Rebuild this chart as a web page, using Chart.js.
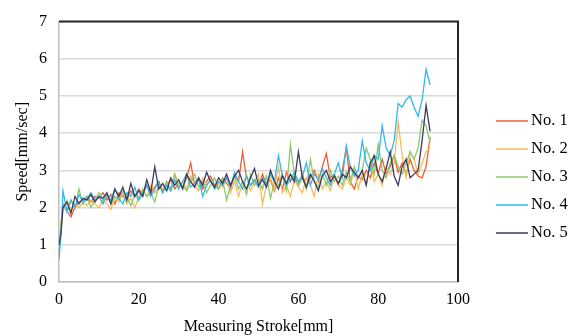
<!DOCTYPE html>
<html>
<head>
<meta charset="utf-8">
<script src="https://cdn.jsdelivr.net/npm/chart.js@4.4.1/dist/chart.umd.min.js"></script>
<style>
  html, body { margin: 0; padding: 0; background: #fff; }
  #wrap { width: 577px; height: 336px; }
</style>
</head>
<body>
<div id="wrap"><canvas id="speedChart" width="577" height="336"></canvas></div>
<script>
// Position sur la course (mm) : 0, 0.5 puis tous les mm jusqu'à 93
const stroke = [0, 0.5];
for (let k = 1; k <= 93; k++) stroke.push(k);

// Vitesses (mm/sec)
const no1 = [1.0, 1.5,
  2.1, 1.9, 1.75, 2.0, 2.15, 2.2, 2.3, 2.15, 2.3, 2.25,
  2.4, 2.2, 2.35, 2.1, 2.4, 2.3, 2.2, 2.45, 2.3, 2.5,
  2.35, 2.6, 2.4, 2.55, 2.7, 2.45, 2.6, 2.75, 2.5, 2.65,
  2.55, 2.8, 3.2, 2.6, 2.75, 2.5, 2.7, 2.85, 2.6, 2.5,
  2.8, 2.65, 2.5, 2.9, 2.7, 3.5, 2.8, 2.6, 2.75, 2.55,
  2.9, 2.6, 2.75, 2.45, 2.8, 2.5, 2.95, 2.7, 2.85, 2.6,
  2.9, 2.55, 2.8, 3.0, 2.7, 3.1, 3.45, 2.8, 2.9, 2.6,
  3.0, 3.6, 2.7, 2.5, 2.85, 2.75, 3.0, 2.8, 3.2, 2.9,
  3.3, 2.9, 3.1, 3.4, 2.95, 3.2, 2.9, 3.3, 3.0, 2.85,
  2.8, 3.1, 3.9];
const no2 = [0.9, 1.6,
  2.0, 2.2, 1.9, 2.1, 2.0, 2.15, 2.05, 2.2, 2.1, 2.0,
  2.2, 2.1, 1.95, 2.3, 2.15, 2.4, 2.1, 2.25, 2.0, 2.3,
  2.45, 2.3, 2.6, 2.4, 2.55, 2.5, 2.7, 2.45, 2.9, 2.6,
  2.7, 2.5, 2.85, 2.6, 2.45, 2.8, 2.6, 2.75, 2.5, 2.65,
  2.55, 2.8, 2.4, 2.7, 2.3, 2.65, 2.85, 2.45, 2.7, 2.9,
  2.1, 2.6, 2.8, 2.5, 3.1, 2.4, 2.6, 2.3, 2.75, 2.55,
  2.4, 2.8, 2.6, 2.3, 2.9, 2.5, 2.7, 2.45, 2.85, 2.6,
  2.5, 2.8, 2.6, 3.0, 2.5, 2.9, 2.6, 3.2, 2.7, 2.9,
  2.6, 3.1, 2.9, 3.2, 4.3, 3.4, 2.8, 3.5, 3.3, 2.9,
  3.2, 3.5, 3.6];
const no3 = [0.8, 1.4,
  2.1, 1.9, 2.2, 2.0, 2.5, 2.1, 2.3, 2.0, 2.2, 2.4,
  2.2, 2.35, 2.1, 2.3, 2.2, 2.45, 2.3, 2.05, 2.35, 2.2,
  2.5, 2.3, 2.4, 2.15, 2.6, 2.4, 2.7, 2.5, 2.9, 2.55,
  2.6, 2.45, 2.7, 2.9, 2.55, 2.7, 2.4, 2.6, 2.8, 2.5,
  2.75, 2.2, 2.6, 2.85, 2.5, 2.7, 2.35, 2.9, 2.6, 2.75,
  2.5, 2.85, 2.25, 2.7, 2.6, 2.9, 2.45, 3.7, 2.9, 2.6,
  2.8, 2.5, 3.3, 2.7, 2.55, 2.9, 2.6, 3.0, 2.7, 2.85,
  2.6, 2.95, 2.7, 3.1, 2.8, 3.0, 3.6, 3.3, 2.9, 3.7,
  3.0, 2.8, 3.2, 3.4, 3.1, 2.9, 3.2, 3.5, 3.3, 3.6,
  4.35, 4.2, 3.75];
const no4 = [0.6, 1.3,
  2.45, 1.9, 2.2, 2.0, 2.35, 2.15, 2.25, 2.4, 2.2, 2.3,
  2.1, 2.35, 2.2, 2.5, 2.25, 2.1, 2.4, 2.3, 2.55, 2.2,
  2.4, 2.6, 2.3, 2.5, 2.7, 2.4, 2.6, 2.45, 2.75, 2.5,
  2.7, 2.9, 2.55, 2.65, 2.8, 2.3, 2.6, 2.75, 2.5, 2.7,
  2.6, 2.8, 2.55, 2.95, 2.7, 2.5, 2.85, 2.6, 2.75, 2.55,
  2.8, 2.65, 2.9, 2.7, 3.4, 2.85, 2.6, 2.75, 2.95, 2.7,
  2.85, 3.2, 2.6, 2.9, 2.75, 3.05, 2.8, 2.6, 2.9, 3.2,
  2.8, 3.65, 3.1, 2.85, 3.0, 3.8, 3.2, 3.0, 3.4, 3.3,
  4.2, 3.6, 3.4, 3.8, 4.8, 4.7, 4.9, 5.0, 4.7, 4.45,
  4.9, 5.72, 5.3];
const no5 = [1.0, 1.3,
  2.0, 2.15, 1.85, 2.3, 2.1, 2.25, 2.2, 2.35, 2.15, 2.3,
  2.25, 2.4, 2.1, 2.5, 2.3, 2.55, 2.2, 2.65, 2.3, 2.45,
  2.3, 2.75, 2.4, 3.1, 2.5, 2.65, 2.45, 2.8, 2.6, 2.75,
  2.5, 2.9, 2.7, 2.55, 2.8, 2.6, 2.95, 2.7, 2.55, 2.8,
  2.65, 2.9, 2.6, 2.85, 3.0, 2.7, 2.5, 2.8, 3.05, 2.6,
  2.75, 2.55, 3.0, 2.7, 2.5, 2.85, 2.65, 2.9, 2.7, 3.5,
  2.8, 2.55, 2.9, 2.7, 2.45, 2.85, 3.0, 2.7, 2.85, 2.65,
  2.9, 2.8, 3.1, 2.95, 2.8, 3.0, 2.6, 3.2, 3.4, 2.9,
  2.7, 3.05, 3.5, 2.85, 2.6, 3.1, 3.3, 2.8, 2.9, 3.0,
  3.8, 4.75, 4.05];

const seriesNames = ['No. 1', 'No. 2', 'No. 3', 'No. 4', 'No. 5'];
const seriesValues = [no1, no2, no3, no4, no5];
const seriesColors = ['#EE5E34', '#FBBA55', '#8CC96B', '#31B8EC', '#3D3B5F'];
const xTicks = [0, 20, 40, 60, 80, 100];
const yTicks = [0, 1, 2, 3, 4, 5, 6, 7];

const serif = '"Liberation Serif", "Times New Roman", serif';

// Légende dessinée à la main pour coller à la position d'origine
const legendPlugin = {
  id: 'sideLegend',
  afterDraw(chart) {
    const ctx = chart.ctx;
    const area = chart.chartArea;
    ctx.save();
    // cadre foncé en haut et à droite
    ctx.strokeStyle = '#262626';
    ctx.lineWidth = 2;
    ctx.beginPath();
    ctx.moveTo(area.left, area.top);
    ctx.lineTo(area.right, area.top);
    ctx.lineTo(area.right, area.bottom);
    ctx.stroke();

    ctx.font = '16.5px ' + serif;
    ctx.textBaseline = 'middle';
    ctx.fillStyle = '#000';
    seriesNames.forEach((name, i) => {
      const y = 121 + i * 28;
      ctx.strokeStyle = seriesColors[i];
      ctx.lineWidth = 1.5;
      ctx.beginPath();
      ctx.moveTo(496, y);
      ctx.lineTo(528, y);
      ctx.stroke();
      ctx.fillText(name, 531, y);
    });
    ctx.restore();
  }
};

const datasets = seriesNames.map((name, i) => ({
  label: name,
  data: stroke.map((x, j) => ({ x: x, y: seriesValues[i][j] })),
  borderColor: seriesColors[i],
  borderWidth: 1.3,
  pointRadius: 0,
  tension: 0,
  fill: false,
  order: seriesNames.length - i
}));

new Chart(document.getElementById('speedChart'), {
  type: 'line',
  data: { datasets: datasets },
  plugins: [legendPlugin],
  options: {
    responsive: false,
    animation: false,
    layout: { padding: { top: 15, right: 119, left: 13, bottom: 0 } },
    plugins: {
      legend: { display: false },
      tooltip: { enabled: false }
    },
    scales: {
      x: {
        type: 'linear',
        min: 0,
        max: 100,
        afterFit: scale => { scale.height = 54; },
        afterBuildTicks: scale => { scale.ticks = xTicks.map(v => ({ value: v })); },
        grid: { display: false, drawTicks: false },
        border: { color: '#bfbfbf', width: 1.5 },
        ticks: { color: '#000', font: { family: serif, size: 16 }, padding: 8, maxRotation: 0 },
        title: { display: true, text: 'Measuring Stroke[mm]', color: '#000', font: { family: serif, size: 16 }, padding: { top: 0, bottom: 0 } }
      },
      y: {
        min: 0,
        max: 7,
        afterFit: scale => { scale.width = 46; },
        afterBuildTicks: scale => { scale.ticks = yTicks.map(v => ({ value: v })); },
        grid: { color: '#d9d9d9', lineWidth: 1.5, drawTicks: false },
        border: { color: '#bfbfbf', width: 1.5 },
        ticks: { color: '#000', font: { family: serif, size: 16 }, padding: 12 },
        title: { display: true, text: 'Speed[mm/sec]', color: '#000', font: { family: serif, size: 16 }, padding: { top: 0, bottom: 0 } }
      }
    }
  }
});
</script>
</body>
</html>
